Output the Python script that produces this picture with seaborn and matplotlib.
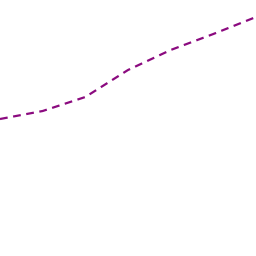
import pandas as pd
import seaborn as sns
import matplotlib.pyplot as plt

# Series data
x_vals = [0, 1, 2, 3, 4, 5, 6]
y_vals = [137, 145, 159, 186, 206, 222, 239]

df = pd.DataFrame({'x': x_vals, 'y': y_vals})

sns.set_style('white')
fig = plt.figure(figsize=(2.56, 2.56), dpi=100)
ax = fig.add_axes([0, 0, 1, 1])

sns.lineplot(data=df, x='x', y='y', ax=ax, color='#8b0a7f',
             linewidth=1.6, linestyle=(0, (3.5, 2.5)))

ax.set_xlim(0, 6)
ax.set_ylim(0, 256)
ax.axis('off')

plt.savefig('out.png', dpi=100)
